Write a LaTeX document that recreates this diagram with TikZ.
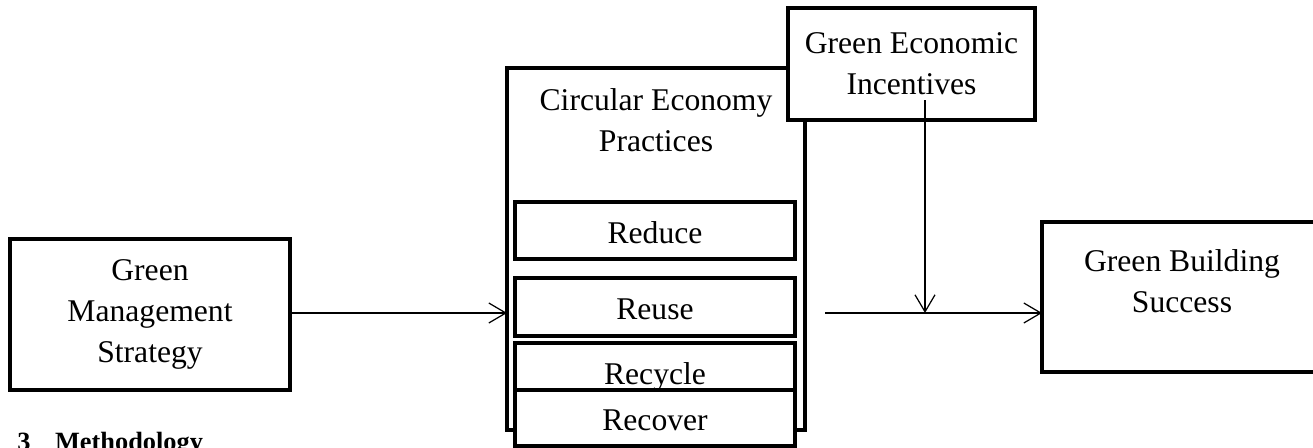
\documentclass[tikz,border=0pt]{standalone}
\usepackage{fontspec}
\setmainfont{Liberation Serif}
\usetikzlibrary{arrows.meta,positioning}

\begin{document}
\begin{tikzpicture}[
  x=0.02cm, y=-0.02cm,
  box/.style={draw, line width=2.5pt, fill=white, outer sep=0pt, inner sep=0pt,
              align=center, font=\fontsize{18}{23.5}\selectfont},
  sub/.style={box, minimum width=5.6cm, minimum height=1.14cm,
              text height=14.5pt, text depth=0pt},
  txt/.style={inner sep=0pt, align=center, font=\fontsize{18}{23.5}\selectfont},
  arr/.style={-{Straight Barb[length=3.4mm,width=4mm]}, line width=0.7pt},
  node distance=0.38cm
]
\useasboundingbox (0,0) rectangle (1313,447);

\node[box, minimum width=5.6cm, minimum height=3.02cm] (gms) at (150,314.5) {Green\\Management\\Strategy};

% circular economy block
\node[box, minimum width=5.96cm, minimum height=7.24cm] (ce) at (656,249) {};
\node[txt, anchor=north] (cetitle) at (656,88) {Circular Economy\\Practices};
\node[box, minimum width=4.94cm, minimum height=2.24cm] (gei) at (911.5,64) {Green Economic\\Incentives};
\node[sub] (reduce) at (655,230.5) {Reduce};
\node[sub, minimum height=1.16cm, below=of reduce] (reuse) {Reuse};
\node[sub, below=0.14cm of reuse] (recycle) {Recycle};
\node[sub, minimum height=1.12cm, below=-0.2cm of recycle] (recover) {Recover};

\node[box, minimum width=5.6cm, minimum height=3cm] (gbs) at (1182,297) {};
\node[txt] (gbstitle) at (1182,281.5) {Green Building\\Success};

% connectors
\coordinate (ceout) at (825,313);
\coordinate (geiin) at (925,100);
\draw[arr] (gms.east |- ceout) -- (ceout -| ce.west);
\draw[arr] (ceout) -- (ceout -| gbs.west);
\draw[arr] (geiin) -- (geiin |- ceout);

\node[anchor=base west, inner sep=0pt, font=\bfseries\fontsize{15}{18}\selectfont] (method) at (17,450.5) {3\hspace{14pt}Methodology};
\end{tikzpicture}
\end{document}
